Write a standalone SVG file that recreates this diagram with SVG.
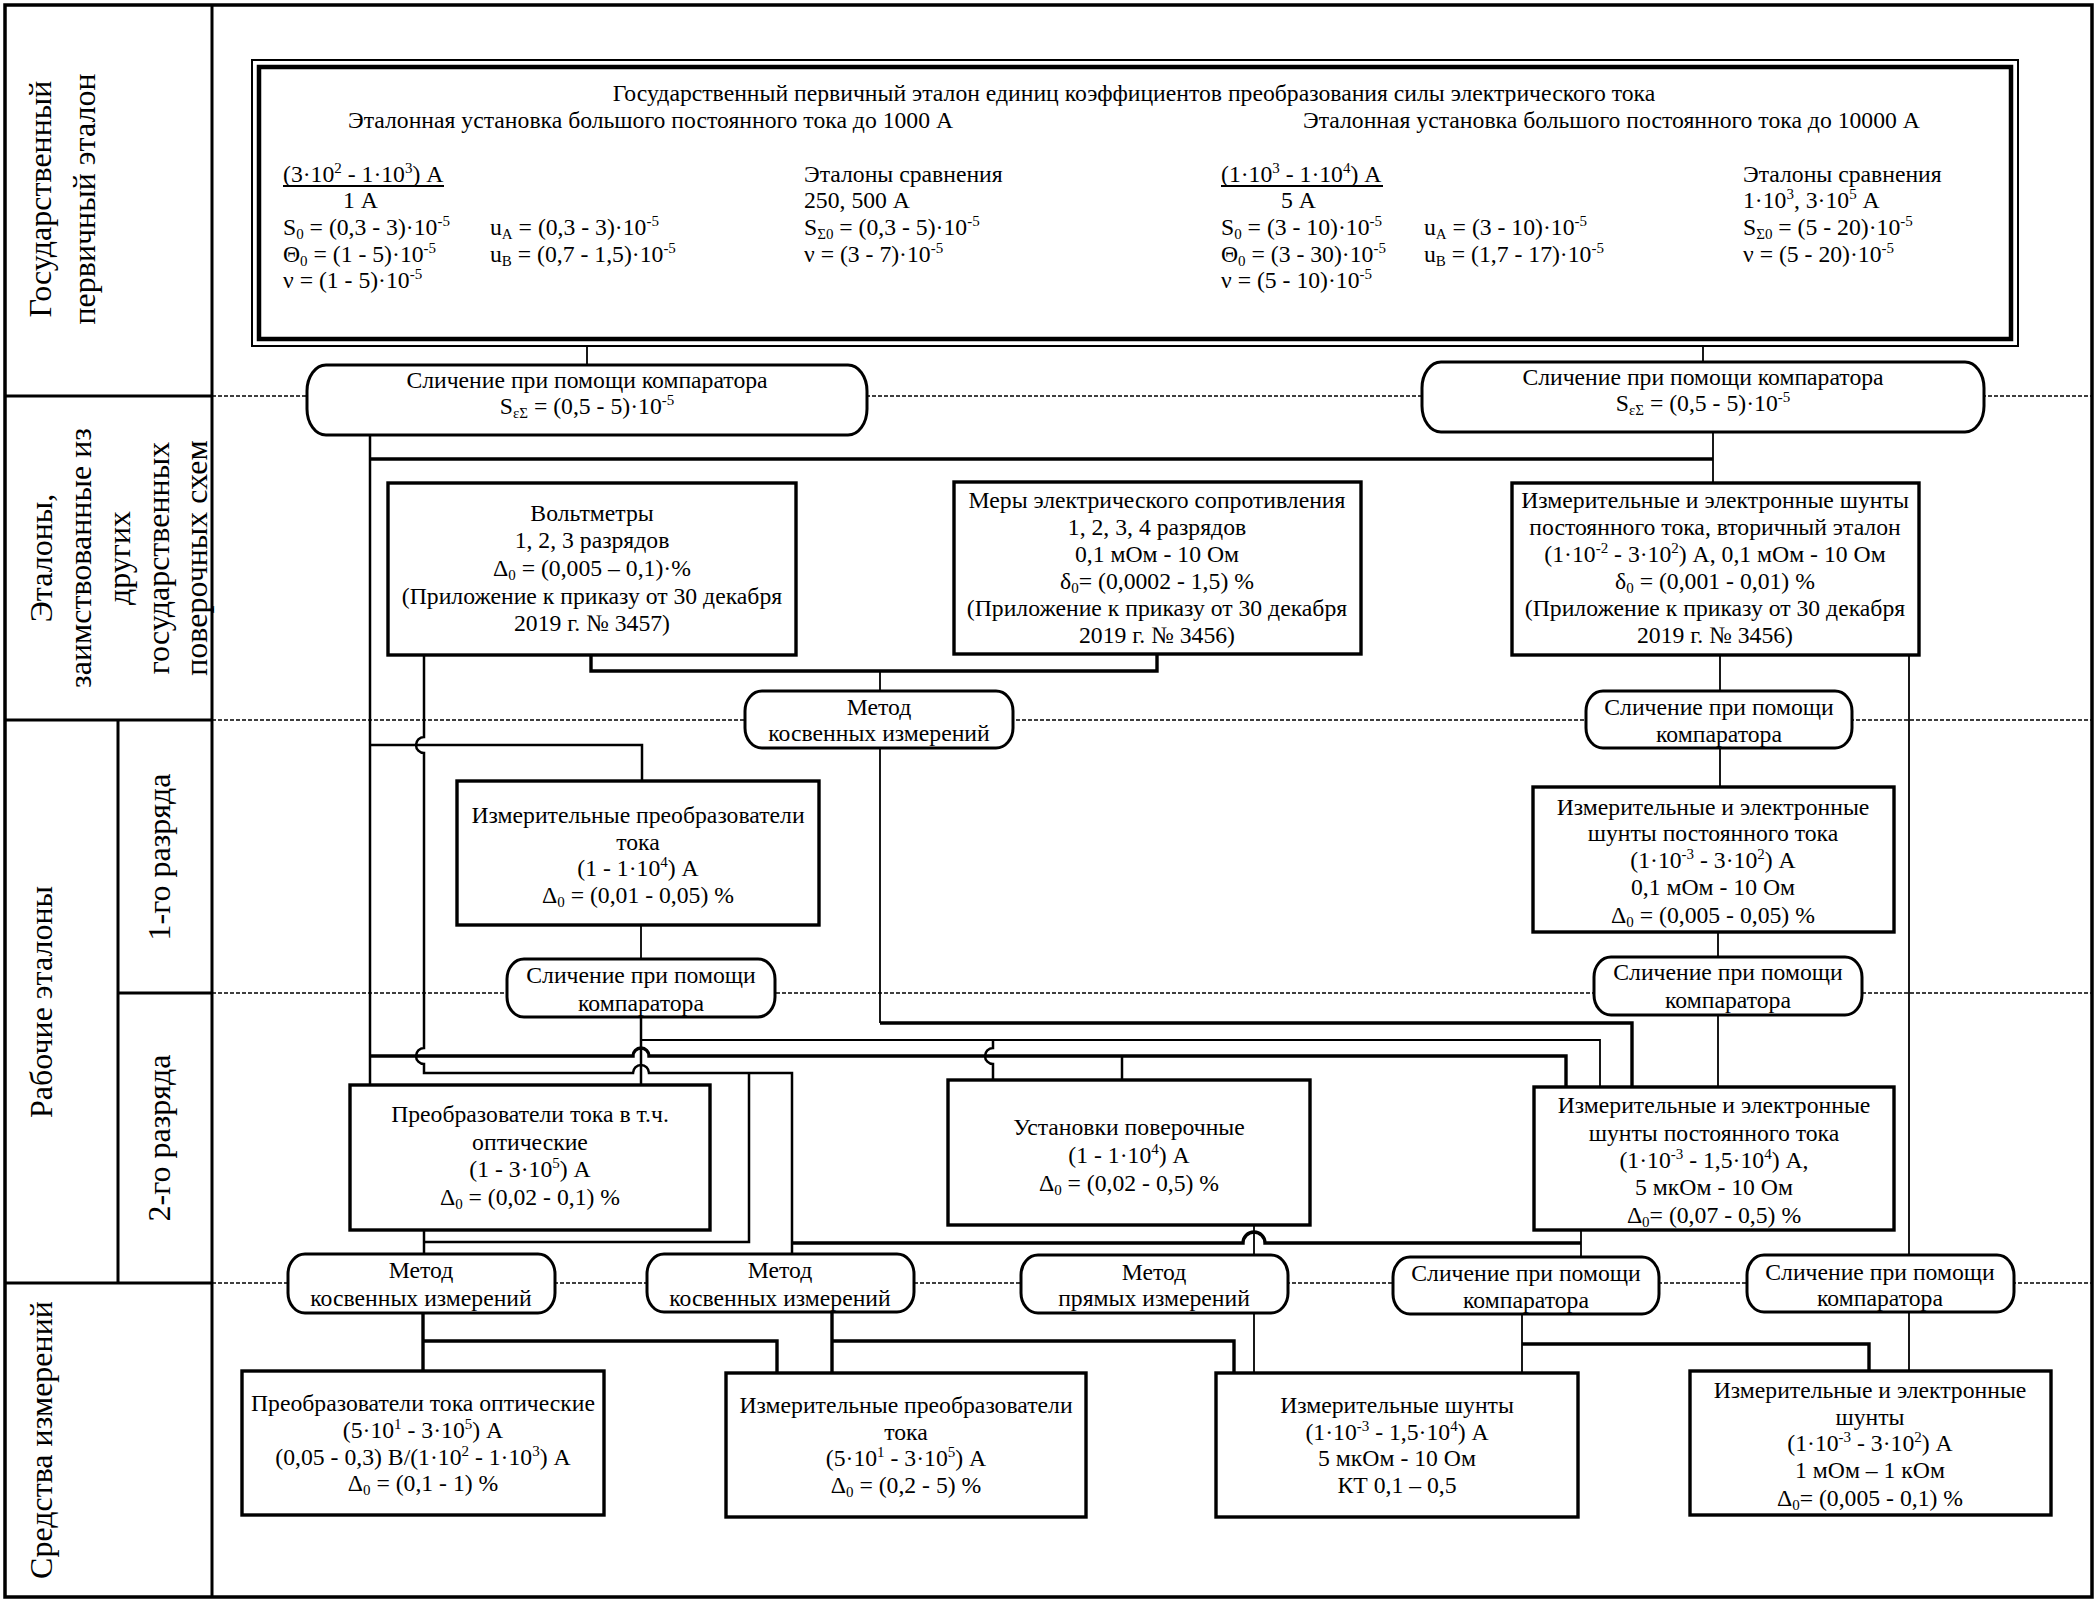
<svg xmlns="http://www.w3.org/2000/svg" width="2100" height="1600" viewBox="0 0 2100 1600">
<style>
text { font-family: "Liberation Serif", "Times New Roman", serif; font-size: 23.7px; fill: #000; }
.c { text-anchor: middle; }
.lbl { font-size: 32px; text-anchor: middle; }
.sp { font-size: 15px; baseline-shift: 9px; }
.sb { font-size: 15px; baseline-shift: -4px; }
.box { fill: #fff; stroke: #000; stroke-width: 3.4; }
.pill { fill: #fff; stroke: #000; stroke-width: 3; }
.frame { fill: none; stroke: #000; stroke-width: 3.5; }
.sep { stroke: #000; stroke-width: 3; }
.dash { stroke: #000; stroke-width: 1.5; stroke-dasharray: 4 2; fill: none; }
.t1 { stroke-width: 1.8; }
.t2 { stroke-width: 2.5; }
.t3 { stroke-width: 3.4; }
</style>

<g id="lanes">
  <rect class="frame" x="5" y="5" width="2087" height="1592"/>
  <line class="sep" x1="212" y1="5" x2="212" y2="1597"/>
  <line class="sep" x1="118" y1="720" x2="118" y2="1283"/>
  <line class="sep" x1="5" y1="396" x2="212" y2="396"/>
  <line class="sep" x1="5" y1="720" x2="212" y2="720"/>
  <line class="sep" x1="118" y1="993" x2="212" y2="993"/>
  <line class="sep" x1="5" y1="1283" x2="212" y2="1283"/>
  <line class="dash" x1="212" y1="396" x2="2092" y2="396"/>
  <line class="dash" x1="212" y1="720" x2="2092" y2="720"/>
  <line class="dash" x1="212" y1="993" x2="2092" y2="993"/>
  <line class="dash" x1="212" y1="1283" x2="2092" y2="1283"/>
  <text class="lbl" transform="translate(51,199) rotate(-90)"><tspan x="0" y="0">Государственный</tspan><tspan x="0" y="44">первичный эталон</tspan></text>
  <text class="lbl" transform="translate(52,558) rotate(-90)"><tspan x="0" y="0">Эталоны,</tspan><tspan x="0" y="39">заимствованные из</tspan><tspan x="0" y="78">других</tspan><tspan x="0" y="117">государственных</tspan><tspan x="0" y="155">поверочных схем</tspan></text>
  <text class="lbl" transform="translate(52,1002) rotate(-90)">Рабочие эталоны</text>
  <text class="lbl" transform="translate(170,857) rotate(-90)">1-го разряда</text>
  <text class="lbl" transform="translate(170,1138) rotate(-90)">2-го разряда</text>
  <text class="lbl" transform="translate(52,1440) rotate(-90)">Средства измерений</text>
</g>

<g id="connectors" fill="none" stroke="#000">
  <path class="t1" d="M587,346 V365"/>
  <path class="t1" d="M1703,346 V362"/>
  <path class="t2" d="M370,435 V1085"/>
  <path class="t3" d="M370,459 H1713"/>
  <path class="t1" d="M1713,432 V483"/>
  <path class="t3" d="M591,655 V671 H1157 V654"/>
  <path class="t1" d="M880,671 V691"/>
  <path class="t1" d="M880,748 V1023"/>
  <path class="t3" d="M880,1023 H1632 V1087"/>
  <path class="t1" d="M1720,655 V691"/>
  <path class="t1" d="M1720,748 V787"/>
  <path class="t1" d="M1909,655 V1255"/>
  <path class="t2" d="M424,655 V737 A8,8 0 0 0 424,753 V1048 A8,8 0 0 0 424,1064 V1073 H633 A8,8 0 0 1 649,1073 H792 V1254"/>
  <path class="t2" d="M749,1073 V1242 H424"/>
  <path class="t2" d="M424,1230 V1254"/>
  <path class="t2" d="M370,745 H642 V781"/>
  <path class="t1" d="M641,925 V959"/>
  <path class="t2" d="M641,1017 V1085"/>
  <path class="t1" d="M641,1040 H1600 V1087"/>
  <path class="t3" d="M370,1056 H633 A8,8 0 0 1 649,1056 H1566 V1087"/>
  <path class="t2" d="M993,1040 V1048 A8,8 0 0 0 993,1064 V1080"/>
  <path class="t2" d="M1122,1056 V1080"/>
  <path class="t3" d="M792,1243 H1243 A11,11 0 0 1 1265,1243 H1581"/>
  <path class="t1" d="M1581,1230 V1257"/>
  <path class="t1" d="M1254,1225 V1255"/>
  <path class="t1" d="M1254,1313 V1373"/>
  <path class="t3" d="M423,1313 V1371"/>
  <path class="t3" d="M423,1341 H777 V1373"/>
  <path class="t3" d="M832,1312 V1373"/>
  <path class="t3" d="M832,1341 H1234 V1373"/>
  <path class="t1" d="M1522,1314 V1373"/>
  <path class="t3" d="M1522,1344 H1869 V1371"/>
  <path class="t1" d="M1909,1312 V1371"/>
  <path class="t1" d="M1718,932 V957"/>
  <path class="t1" d="M1718,1015 V1087"/>
</g>

<g id="primary">
  <rect x="252" y="60" width="1766" height="286" fill="#fff" stroke="#000" stroke-width="2"/>
  <rect x="259" y="67" width="1752" height="272" fill="none" stroke="#000" stroke-width="4.5"/>
  <text class="c" x="1134" y="101">Государственный первичный эталон единиц коэффициентов преобразования силы электрического тока</text>
  <text x="348" y="128">Эталонная установка большого постоянного тока до 1000 А</text>
  <text x="1303" y="128">Эталонная установка большого постоянного тока до 10000 А</text>
  <text x="283" y="182">(3·10<tspan class="sp">2</tspan> - 1·10<tspan class="sp">3</tspan>) А</text>
  <line x1="283" y1="186" x2="444" y2="186" stroke="#000" stroke-width="2"/>
  <text x="343" y="208">1 А</text>
  <text x="283" y="235">S<tspan class="sb">0</tspan> = (0,3 - 3)·10<tspan class="sp">-5</tspan></text>
  <text x="283" y="262">Θ<tspan class="sb">0</tspan> = (1 - 5)·10<tspan class="sp">-5</tspan></text>
  <text x="283" y="288">ν = (1 - 5)·10<tspan class="sp">-5</tspan></text>
  <text x="490" y="235">u<tspan class="sb">A</tspan> = (0,3 - 3)·10<tspan class="sp">-5</tspan></text>
  <text x="490" y="262">u<tspan class="sb">B</tspan> = (0,7 - 1,5)·10<tspan class="sp">-5</tspan></text>
  <text x="804" y="182">Эталоны сравнения</text>
  <text x="804" y="208">250, 500 А</text>
  <text x="804" y="235">S<tspan class="sb">Σ0</tspan> = (0,3 - 5)·10<tspan class="sp">-5</tspan></text>
  <text x="804" y="262">ν = (3 - 7)·10<tspan class="sp">-5</tspan></text>
  <text x="1221" y="182">(1·10<tspan class="sp">3</tspan> - 1·10<tspan class="sp">4</tspan>) А</text>
  <line x1="1221" y1="186" x2="1383" y2="186" stroke="#000" stroke-width="2"/>
  <text x="1281" y="208">5 А</text>
  <text x="1221" y="235">S<tspan class="sb">0</tspan> = (3 - 10)·10<tspan class="sp">-5</tspan></text>
  <text x="1221" y="262">Θ<tspan class="sb">0</tspan> = (3 - 30)·10<tspan class="sp">-5</tspan></text>
  <text x="1221" y="288">ν = (5 - 10)·10<tspan class="sp">-5</tspan></text>
  <text x="1424" y="235">u<tspan class="sb">A</tspan> = (3 - 10)·10<tspan class="sp">-5</tspan></text>
  <text x="1424" y="262">u<tspan class="sb">B</tspan> = (1,7 - 17)·10<tspan class="sp">-5</tspan></text>
  <text x="1743" y="182">Эталоны сравнения</text>
  <text x="1743" y="208">1·10<tspan class="sp">3</tspan>, 3·10<tspan class="sp">5</tspan> А</text>
  <text x="1743" y="235">S<tspan class="sb">Σ0</tspan> = (5 - 20)·10<tspan class="sp">-5</tspan></text>
  <text x="1743" y="262">ν = (5 - 20)·10<tspan class="sp">-5</tspan></text>
</g>

<g id="cmp-top-left">
  <rect class="pill" x="307" y="365" width="560" height="70" rx="19" ry="26"/>
  <text class="c" x="587" y="388">Сличение при помощи компаратора</text>
  <text class="c" x="587" y="414">S<tspan class="sb">εΣ</tspan> = (0,5 - 5)·10<tspan class="sp">-5</tspan></text>
</g>
<g id="cmp-top-right">
  <rect class="pill" x="1422" y="362" width="562" height="70" rx="19" ry="26"/>
  <text class="c" x="1703" y="385">Сличение при помощи компаратора</text>
  <text class="c" x="1703" y="411">S<tspan class="sb">εΣ</tspan> = (0,5 - 5)·10<tspan class="sp">-5</tspan></text>
</g>

<g id="voltmeters">
  <rect class="box" x="388" y="483" width="408" height="172"/>
  <text class="c" x="592" y="521">Вольтметры</text>
  <text class="c" x="592" y="548">1, 2, 3 разрядов</text>
  <text class="c" x="592" y="576">Δ<tspan class="sb">0</tspan> = (0,005 – 0,1)·%</text>
  <text class="c" x="592" y="604">(Приложение к приказу от 30 декабря</text>
  <text class="c" x="592" y="631">2019 г. № 3457)</text>
</g>
<g id="resistance">
  <rect class="box" x="954" y="482" width="407" height="172"/>
  <text class="c" x="1157" y="508">Меры электрического сопротивления</text>
  <text class="c" x="1157" y="535">1, 2, 3, 4 разрядов</text>
  <text class="c" x="1157" y="562">0,1 мОм - 10 Ом</text>
  <text class="c" x="1157" y="589">δ<tspan class="sb">0</tspan>= (0,0002 - 1,5) %</text>
  <text class="c" x="1157" y="616">(Приложение к приказу от 30 декабря</text>
  <text class="c" x="1157" y="643">2019 г. № 3456)</text>
</g>
<g id="shunts-secondary">
  <rect class="box" x="1512" y="483" width="407" height="172"/>
  <text class="c" x="1715" y="508">Измерительные и электронные шунты</text>
  <text class="c" x="1715" y="535">постоянного тока, вторичный эталон</text>
  <text class="c" x="1715" y="562">(1·10<tspan class="sp">-2</tspan> - 3·10<tspan class="sp">2</tspan>) А, 0,1 мОм - 10 Ом</text>
  <text class="c" x="1715" y="589">δ<tspan class="sb">0</tspan> = (0,001 - 0,01) %</text>
  <text class="c" x="1715" y="616">(Приложение к приказу от 30 декабря</text>
  <text class="c" x="1715" y="643">2019 г. № 3456)</text>
</g>

<g id="method-indirect-1">
  <rect class="pill" x="745" y="691" width="268" height="57" rx="17" ry="20"/>
  <text class="c" x="879" y="715">Метод</text>
  <text class="c" x="879" y="741">косвенных измерений</text>
</g>
<g id="cmp-r2">
  <rect class="pill" x="1586" y="691" width="266" height="57" rx="17" ry="20"/>
  <text class="c" x="1719" y="715">Сличение при помощи</text>
  <text class="c" x="1719" y="742">компаратора</text>
</g>

<g id="transducers-1">
  <rect class="box" x="457" y="781" width="362" height="144"/>
  <text class="c" x="638" y="823">Измерительные преобразователи</text>
  <text class="c" x="638" y="850">тока</text>
  <text class="c" x="638" y="876">(1 - 1·10<tspan class="sp">4</tspan>) А</text>
  <text class="c" x="638" y="903">Δ<tspan class="sb">0</tspan> = (0,01 - 0,05) %</text>
</g>
<g id="shunts-1">
  <rect class="box" x="1533" y="787" width="361" height="145"/>
  <text class="c" x="1713" y="815">Измерительные и электронные</text>
  <text class="c" x="1713" y="841">шунты постоянного тока</text>
  <text class="c" x="1713" y="868">(1·10<tspan class="sp">-3</tspan> - 3·10<tspan class="sp">2</tspan>) А</text>
  <text class="c" x="1713" y="895">0,1 мОм - 10 Ом</text>
  <text class="c" x="1713" y="923">Δ<tspan class="sb">0</tspan> = (0,005 - 0,05) %</text>
</g>

<g id="cmp-r3-left">
  <rect class="pill" x="507" y="959" width="268" height="58" rx="17" ry="20"/>
  <text class="c" x="641" y="983">Сличение при помощи</text>
  <text class="c" x="641" y="1011">компаратора</text>
</g>
<g id="cmp-r3-right">
  <rect class="pill" x="1594" y="957" width="268" height="58" rx="17" ry="20"/>
  <text class="c" x="1728" y="980">Сличение при помощи</text>
  <text class="c" x="1728" y="1008">компаратора</text>
</g>

<g id="transducers-2">
  <rect class="box" x="350" y="1085" width="360" height="145"/>
  <text class="c" x="530" y="1122">Преобразователи тока в т.ч.</text>
  <text class="c" x="530" y="1150">оптические</text>
  <text class="c" x="530" y="1177">(1 - 3·10<tspan class="sp">5</tspan>) А</text>
  <text class="c" x="530" y="1205">Δ<tspan class="sb">0</tspan> = (0,02 - 0,1) %</text>
</g>
<g id="installations">
  <rect class="box" x="948" y="1080" width="362" height="145"/>
  <text class="c" x="1129" y="1135">Установки поверочные</text>
  <text class="c" x="1129" y="1163">(1 - 1·10<tspan class="sp">4</tspan>) А</text>
  <text class="c" x="1129" y="1191">Δ<tspan class="sb">0</tspan> = (0,02 - 0,5) %</text>
</g>
<g id="shunts-2">
  <rect class="box" x="1534" y="1087" width="360" height="143"/>
  <text class="c" x="1714" y="1113">Измерительные и электронные</text>
  <text class="c" x="1714" y="1141">шунты постоянного тока</text>
  <text class="c" x="1714" y="1168">(1·10<tspan class="sp">-3</tspan> - 1,5·10<tspan class="sp">4</tspan>) А,</text>
  <text class="c" x="1714" y="1195">5 мкОм - 10 Ом</text>
  <text class="c" x="1714" y="1223">Δ<tspan class="sb">0</tspan>= (0,07 - 0,5) %</text>
</g>

<g id="method-indirect-2">
  <rect class="pill" x="288" y="1254" width="267" height="59" rx="17" ry="20"/>
  <text class="c" x="421" y="1278">Метод</text>
  <text class="c" x="421" y="1306">косвенных измерений</text>
</g>
<g id="method-indirect-3">
  <rect class="pill" x="647" y="1254" width="267" height="58" rx="17" ry="20"/>
  <text class="c" x="780" y="1278">Метод</text>
  <text class="c" x="780" y="1306">косвенных измерений</text>
</g>
<g id="method-direct">
  <rect class="pill" x="1021" y="1255" width="267" height="58" rx="17" ry="20"/>
  <text class="c" x="1154" y="1280">Метод</text>
  <text class="c" x="1154" y="1306">прямых измерений</text>
</g>
<g id="cmp-b1">
  <rect class="pill" x="1393" y="1257" width="266" height="57" rx="17" ry="20"/>
  <text class="c" x="1526" y="1281">Сличение при помощи</text>
  <text class="c" x="1526" y="1308">компаратора</text>
</g>
<g id="cmp-b2">
  <rect class="pill" x="1747" y="1255" width="267" height="57" rx="17" ry="20"/>
  <text class="c" x="1880" y="1280">Сличение при помощи</text>
  <text class="c" x="1880" y="1306">компаратора</text>
</g>

<g id="mi-optical">
  <rect class="box" x="242" y="1371" width="362" height="144"/>
  <text class="c" x="423" y="1411">Преобразователи тока оптические</text>
  <text class="c" x="423" y="1438">(5·10<tspan class="sp">1</tspan> - 3·10<tspan class="sp">5</tspan>) А</text>
  <text class="c" x="423" y="1465">(0,05 - 0,3) В/(1·10<tspan class="sp">2</tspan> - 1·10<tspan class="sp">3</tspan>) А</text>
  <text class="c" x="423" y="1491">Δ<tspan class="sb">0</tspan> = (0,1 - 1) %</text>
</g>
<g id="mi-transducers">
  <rect class="box" x="726" y="1373" width="360" height="144"/>
  <text class="c" x="906" y="1413">Измерительные преобразователи</text>
  <text class="c" x="906" y="1440">тока</text>
  <text class="c" x="906" y="1466">(5·10<tspan class="sp">1</tspan> - 3·10<tspan class="sp">5</tspan>) А</text>
  <text class="c" x="906" y="1493">Δ<tspan class="sb">0</tspan> = (0,2 - 5) %</text>
</g>
<g id="mi-shunts">
  <rect class="box" x="1216" y="1373" width="362" height="144"/>
  <text class="c" x="1397" y="1413">Измерительные шунты</text>
  <text class="c" x="1397" y="1440">(1·10<tspan class="sp">-3</tspan> - 1,5·10<tspan class="sp">4</tspan>) А</text>
  <text class="c" x="1397" y="1466">5 мкОм - 10 Ом</text>
  <text class="c" x="1397" y="1493">КТ 0,1 – 0,5</text>
</g>
<g id="mi-eshunts">
  <rect class="box" x="1690" y="1371" width="361" height="144"/>
  <text class="c" x="1870" y="1398">Измерительные и электронные</text>
  <text class="c" x="1870" y="1425">шунты</text>
  <text class="c" x="1870" y="1451">(1·10<tspan class="sp">-3</tspan> - 3·10<tspan class="sp">2</tspan>) А</text>
  <text class="c" x="1870" y="1478">1 мОм – 1 кОм</text>
  <text class="c" x="1870" y="1506">Δ<tspan class="sb">0</tspan>= (0,005 - 0,1) %</text>
</g>
</svg>
